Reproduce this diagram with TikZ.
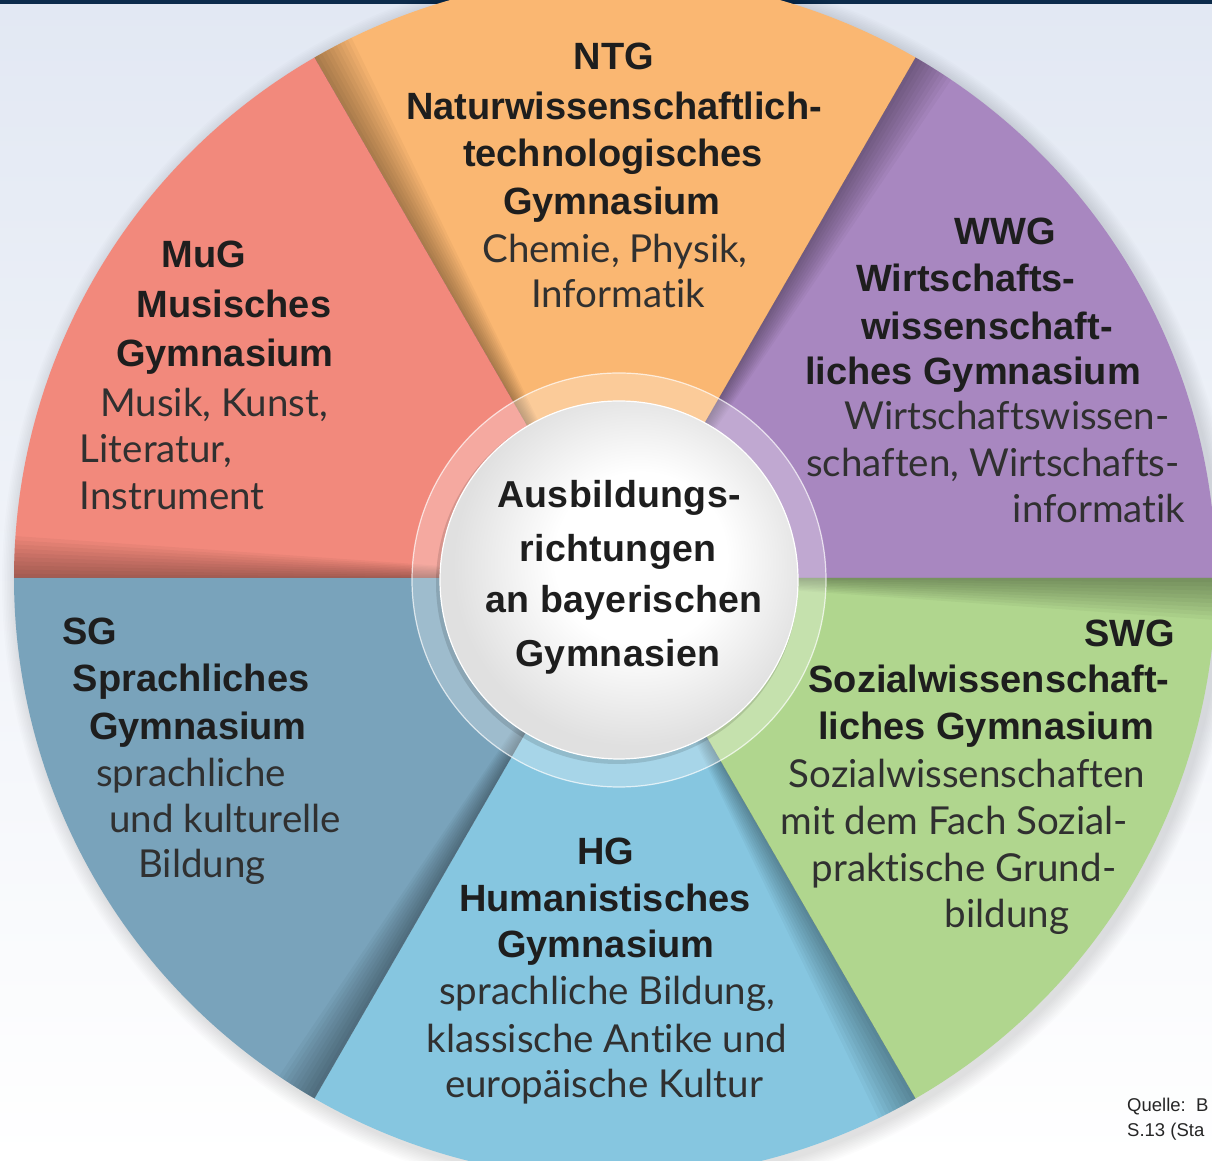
\documentclass[tikz,border=0pt]{standalone}
\usepackage{fontspec}
\setmainfont{Liberation Sans}
\newfontfamily\bodyfont{Lato}[Ligatures={NoCommon}]
\usepackage{tikz}
\usetikzlibrary{calc}

\definecolor{ntgorange}{HTML}{FAB772}
\definecolor{mugred}{HTML}{F2897C}
\definecolor{wwgviolet}{HTML}{A887C0}
\definecolor{sgblue}{HTML}{79A3BB}
\definecolor{hgblue}{HTML}{86C6E0}
\definecolor{swggreen}{HTML}{B0D68E}
\definecolor{bgtop}{HTML}{E2E8F3}
\definecolor{navy}{HTML}{0C2B4B}
\definecolor{inktext}{HTML}{1E1E1E}
\definecolor{greytext}{HTML}{303030}
\pgfdeclareradialshading{diskshade}{\pgfpoint{4bp}{4bp}}{color(0bp)=(white); color(12bp)=(white); color(25bp)=(black!12); color(50bp)=(black!12)}

\begin{document}
\begin{tikzpicture}[x=1pt,y=1pt,
    hd/.style={font=\fontsize{38}{44}\selectfont\bfseries,text=inktext,inner sep=0pt,anchor=base},
    rg/.style={font=\bodyfont\fontsize{38.5}{44}\selectfont,text=greytext,inner sep=0pt,anchor=base},
    ctr/.style={font=\fontsize{37.5}{44}\selectfont\bfseries\addfontfeature{LetterSpace=1},text=inktext,inner sep=0pt,anchor=base},
    src/.style={font=\fontsize{18.5}{22}\selectfont,text=black!85,inner sep=0pt,anchor=base west}
]
\useasboundingbox (0,0) rectangle (1212,1161);
\clip (0,0) rectangle (1212,1161);
\shade[top color=bgtop,bottom color=white] (0,0) rectangle (1212,1161);
\fill[navy] (0,1157) rectangle (1212,1161);

\coordinate (c) at (615,583);
\coordinate (d) at (619,581);

% soft halo behind the wheel
\foreach \k in {1,...,10}
  \fill[black,opacity=0.012] ($(c)+(4,-4)$) circle[radius=601+\k*1.6];

% six sectors
\foreach \a/\col in {0/wwgviolet,60/ntgorange,120/mugred,180/sgblue,240/hgblue,300/swggreen}
  \fill[\col] (c) -- ++(\a:601) arc[start angle=\a,end angle=\a+60,radius=601] -- cycle;

% fold shadow along the upper edge of each sector
\foreach \e in {60,120,180,240,300,360}{
  \foreach \k in {1,...,10}{
    \pgfmathsetmacro{\fs}{\e-0.4*\k}
    \fill[black,opacity=0.035] (c) -- ($(c)+(\fs:601)$) arc[start angle=\fs,end angle=\e,radius=601] -- cycle;
  }
}

% centre disk
\fill[white,opacity=0.28] (d) circle[radius=207];
\draw[white,opacity=0.7,line width=1.2] (d) circle[radius=207];
\fill[black,opacity=0.12] ($(d)+(-2,-3)$) circle[radius=181];
\shade[shading=diskshade] (d) circle[radius=179];
\draw[white,line width=1.2] (d) circle[radius=179];

\foreach \s/\x/\y/\t [count=\i] in {
    ctr/619/508/Ausbildungs-,
    ctr/618/562/richtungen,
    ctr/624/613/an bayerischen,
    ctr/618/667/Gymnasien}
  \node[\s] (mid\i) at (\x,{1161-\y}) {\t};

% NTG
\foreach \s/\x/\y/\t [count=\i] in {
    hd/614/70/NTG,
    hd/614/120/Naturwissenschaftlich-,
    hd/613/167/technologisches,
    hd/612/215/Gymnasium,
    rg/615/263/{Chemie, Physik,},
    rg/618/308/Informatik}
  \node[\s] (ntg\i) at (\x,{1161-\y}) {\t};

% MuG
\foreach \s/\x/\y/\t [count=\i] in {
    hd/204/268/MuG,
    hd/234/318/Musisches,
    hd/225/367/Gymnasium,
    rg/214/417/{Musik, Kunst,},
    rg/156/463/{Literatur,},
    rg/172/510/Instrument}
  \node[\s] (mug\i) at (\x,{1161-\y}) {\t};

% WWG
\foreach \s/\x/\y/\t [count=\i] in {
    hd/1005/245/WWG,
    hd/966/292/Wirtschafts-,
    hd/987/340/wissenschaft-,
    hd/973/385/liches Gymnasium,
    rg/1007/430/Wirtschaftswissen-,
    rg/993/477/{schaften, Wirtschafts-},
    rg/1099/523/informatik}
  \node[\s] (wwg\i) at (\x,{1161-\y}) {\t};

% SG
\foreach \s/\x/\y/\t [count=\i] in {
    hd/90/645/SG,
    hd/191/692/Sprachliches,
    hd/198/740/Gymnasium,
    rg/191/787/sprachliche,
    rg/225/833/und kulturelle,
    rg/202/878/Bildung}
  \node[\s] (sg\i) at (\x,{1161-\y}) {\t};

% HG
\foreach \s/\x/\y/\t [count=\i] in {
    hd/606/865/HG,
    hd/605/912/Humanistisches,
    hd/606/958/Gymnasium,
    rg/607/1005/{sprachliche Bildung,},
    rg/607/1053/klassische Antike und,
    rg/604/1098/europäische Kultur}
  \node[\s] (hg\i) at (\x,{1161-\y}) {\t};

% SWG
\foreach \s/\x/\y/\t [count=\i] in {
    hd/1130/647/SWG,
    hd/989/693/Sozialwissenschaft-,
    hd/986/740/liches Gymnasium,
    rg/967/788/Sozialwissenschaften,
    rg/954/835/mit dem Fach Sozial-,
    rg/964/882/praktische Grund-,
    rg/1007/928/bildung}
  \node[\s] (swg\i) at (\x,{1161-\y}) {\t};

\node[src] (quelle1) at (1127,49) {Quelle:\ \ B};
\node[src] (quelle2) at (1127,24) {S.13 (Sta};
\end{tikzpicture}
\end{document}
